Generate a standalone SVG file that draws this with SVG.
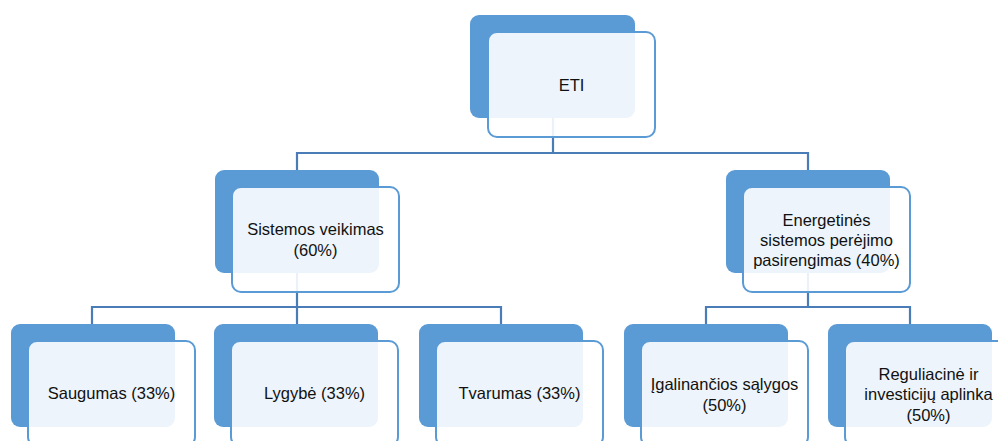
<svg xmlns="http://www.w3.org/2000/svg" width="998" height="441" viewBox="0 0 998 441">
<style>
.back{fill:#5B9BD5;}
.front{fill:#FFFFFF;fill-opacity:0.89;stroke:#5B9BD5;stroke-width:2;}
.lbl{font-family:"Liberation Sans",Arial,sans-serif;font-size:16.5px;fill:#111;text-anchor:middle;}
.conn{fill:none;stroke:#4A7DB8;stroke-width:2.2;}
</style>
<rect width="998" height="441" fill="#FFFFFF"/>
<g id="connectors">
<path class="conn" d="M553,118 V153 M297,170 V153 H808 V170"/>
<path class="conn" d="M297,273 V307 M92,324 V307 H501 V324 M297,307 V324"/>
<path class="conn" d="M808,273 V307 M706,324 V307 H910 V324"/>
</g>
<g id="node-eti">
<rect class="back" x="470" y="15" width="165" height="103" rx="9"/>
<rect class="front" x="488" y="32" width="167" height="105" rx="9"/>
<text class="lbl" x="571.5" y="90.5">ETI</text>
</g>
<g id="node-sistemos">
<rect class="back" x="215" y="170" width="164" height="103" rx="9"/>
<rect class="front" x="232" y="187" width="167" height="105" rx="9"/>
<text class="lbl" x="315.5" y="235">Sistemos veikimas</text>
<text class="lbl" x="315.5" y="256">(60%)</text>
</g>
<g id="node-energetines">
<rect class="back" x="726" y="170" width="164" height="103" rx="9"/>
<rect class="front" x="743" y="187" width="167" height="105" rx="9"/>
<text class="lbl" x="826.5" y="226">Energetinės</text>
<text class="lbl" x="826.5" y="246">sistemos perėjimo</text>
<text class="lbl" x="826.5" y="266">pasirengimas (40%)</text>
</g>
<g id="node-saugumas">
<rect class="back" x="11" y="324" width="164" height="103" rx="9"/>
<rect class="front" x="28" y="341" width="167" height="105" rx="9"/>
<text class="lbl" x="111.5" y="399">Saugumas (33%)</text>
</g>
<g id="node-lygybe">
<rect class="back" x="214" y="324" width="164" height="103" rx="9"/>
<rect class="front" x="231" y="341" width="167" height="105" rx="9"/>
<text class="lbl" x="314.5" y="399">Lygybė (33%)</text>
</g>
<g id="node-tvarumas">
<rect class="back" x="419" y="324" width="164" height="103" rx="9"/>
<rect class="front" x="436" y="341" width="167" height="105" rx="9"/>
<text class="lbl" x="519.5" y="399">Tvarumas (33%)</text>
</g>
<g id="node-igalinancios">
<rect class="back" x="624" y="324" width="164" height="103" rx="9"/>
<rect class="front" x="641" y="341" width="167" height="105" rx="9"/>
<text class="lbl" x="724.5" y="390">Įgalinančios sąlygos</text>
<text class="lbl" x="724.5" y="411">(50%)</text>
</g>
<g id="node-reguliacine">
<rect class="back" x="828" y="324" width="164" height="103" rx="9"/>
<rect class="front" x="845" y="341" width="167" height="105" rx="9"/>
<text class="lbl" x="928.5" y="380">Reguliacinė ir</text>
<text class="lbl" x="928.5" y="400">investicijų aplinka</text>
<text class="lbl" x="928.5" y="421">(50%)</text>
</g>
</svg>
